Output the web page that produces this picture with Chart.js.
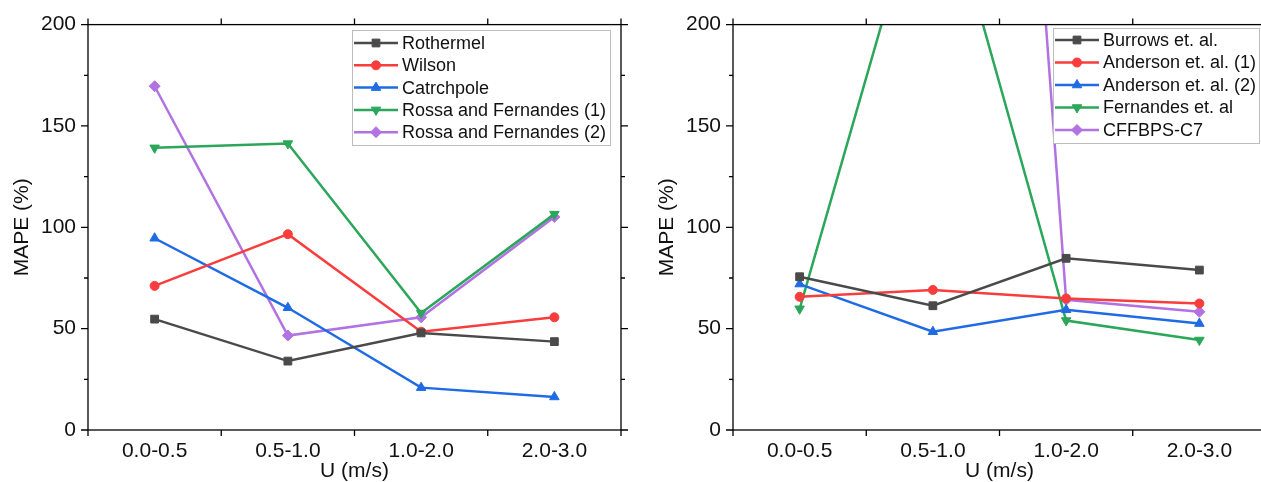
<!DOCTYPE html>
<html>
<head>
<meta charset="utf-8">
<script src="https://cdn.jsdelivr.net/npm/chart.js@4.4.1/dist/chart.umd.min.js"></script>
<style>
  html, body { margin: 0; padding: 0; background: #fff; overflow: hidden; }
  #wrap { position: relative; width: 1261px; height: 482px; overflow: hidden; }
  .box { position: absolute; top: 0; width: 640px; height: 482px; }
  #leftBox { left: 0; }
  #rightBox { left: 645px; }
</style>
</head>
<body>
<div id="wrap">
  <div class="box" id="leftBox"><canvas id="leftChart"></canvas></div>
  <div class="box" id="rightBox"><canvas id="rightChart"></canvas></div>
</div>
<script>
const categories = ["0.0-0.5", "0.5-1.0", "1.0-2.0", "2.0-3.0"];
const yTickValues = [0, 50, 100, 150, 200];

// left panel
const rothermel = [54.7, 34.0, 47.9, 43.6];
const wilson = [71.1, 96.6, 48.5, 55.6];
const catchpole = [94.6, 60.3, 20.9, 16.3];
const rossaFernandes1 = [139.2, 141.3, 57.7, 106.5];
const rossaFernandes2 = [169.6, 46.6, 55.6, 105.1];

// right panel (some values run off the top of the axis)
const burrows = [75.6, 61.3, 84.7, 78.9];
const anderson1 = [65.7, 69.1, 64.9, 62.4];
const anderson2 = [72.0, 48.5, 59.3, 52.5];
const fernandes = [59.8, 288, 54.0, 44.4];
const cffbpsC7 = [850, 960, 64.2, 58.3];

const FONT = "'Liberation Sans', Arial, sans-serif";
const GRAY = "#4a4a4a", RED = "#f93c3c", BLUE = "#1f6be4", GREEN = "#2ba65a", PURPLE = "#b272e2";

function series(label, data, color, style, radius, rotation) {
    return {
        label: label,
        data: data,
        borderColor: color,
        backgroundColor: color,
        borderWidth: 2.5,
        pointStyle: style,
        pointRadius: radius,
        pointRotation: rotation || 0,
        pointBorderWidth: 1,
        tension: 0,
    };
}

// frame with ticks on all four sides, Origin style
const framePlugin = {
    id: "frame",
    afterDraw(chart) {
        const { ctx, chartArea: a, scales } = chart;
        const x = scales.x, y = scales.y;
        ctx.save();
        ctx.strokeStyle = "#000";
        ctx.lineWidth = 1.3;
        ctx.strokeRect(a.left, a.top, a.right - a.left, a.bottom - a.top);
        ctx.beginPath();
        for (let v = 0; v <= 200; v += 25) {
            const py = y.getPixelForValue(v);
            const len = v % 50 === 0 ? 7 : 4;
            ctx.moveTo(a.left - len, py);
            ctx.lineTo(a.left, py);
            ctx.moveTo(a.right, py);
            ctx.lineTo(a.right + len, py);
        }
        for (let i = 0; i <= categories.length; i++) {
            const px = x.getPixelForValue(i - 0.5);
            ctx.moveTo(px, a.bottom);
            ctx.lineTo(px, a.bottom + 6);
            ctx.moveTo(px, a.top);
            ctx.lineTo(px, a.top - 6);
        }
        ctx.stroke();
        ctx.restore();
    },
};

// legend box drawn inside the plot
const legendPlugin = {
    id: "boxLegend",
    afterDatasetsDraw(chart, args, opts) {
        const ctx = chart.ctx;
        ctx.save();
        ctx.fillStyle = "#fff";
        ctx.fillRect(opts.x, opts.y, opts.w, opts.h);
        ctx.strokeStyle = "#bdbdbd";
        ctx.lineWidth = 1;
        ctx.strokeRect(opts.x + 0.5, opts.y + 0.5, opts.w, opts.h);
        ctx.font = "18px " + FONT;
        ctx.textBaseline = "middle";
        chart.data.datasets.forEach((ds, i) => {
            const ry = opts.firstRow + i * opts.rowGap;
            const x0 = opts.x + 2, x1 = opts.x + 46;
            ctx.strokeStyle = ds.borderColor;
            ctx.fillStyle = ds.backgroundColor;
            ctx.lineWidth = 2.5;
            ctx.beginPath();
            ctx.moveTo(x0, ry);
            ctx.lineTo(x1, ry);
            ctx.stroke();
            ctx.lineWidth = 1;
            Chart.helpers.drawPoint(ctx, {
                pointStyle: ds.pointStyle,
                radius: ds.pointRadius,
                rotation: ds.pointRotation,
                borderWidth: 1,
            }, (x0 + x1) / 2, ry);
            ctx.fillStyle = "#111";
            ctx.fillText(ds.label, x1 + 4, ry + 1);
        });
        ctx.restore();
    },
};

function makeChart(id, datasets, legend) {
    return new Chart(document.getElementById(id), {
        type: "line",
        data: { labels: categories, datasets: datasets },
        plugins: [framePlugin, legendPlugin],
        options: {
            responsive: false,
            animation: false,
            maintainAspectRatio: false,
            layout: { padding: { top: 21, right: 19, bottom: 0, left: 0 } },
            plugins: {
                legend: { display: false },
                tooltip: { enabled: false },
                boxLegend: legend,
            },
            scales: {
                x: {
                    type: "category",
                    offset: true,
                    grid: { display: false, drawTicks: false },
                    border: { display: false },
                    ticks: { color: "#111", padding: 9, font: { family: FONT, size: 21 } },
                    title: {
                        display: true,
                        text: "U (m/s)",
                        color: "#111",
                        padding: 0,
                        font: { family: FONT, size: 21, lineHeight: 1 },
                    },
                    afterFit(scale) { scale.height = 52; },
                },
                y: {
                    min: 0,
                    max: 200,
                    afterBuildTicks(scale) { scale.ticks = yTickValues.map(v => ({ value: v })); },
                    grid: { display: false, drawTicks: false },
                    border: { display: false },
                    ticks: { color: "#111", padding: 12, font: { family: FONT, size: 21 } },
                    title: {
                        display: true,
                        text: "MAPE (%)",
                        color: "#111",
                        padding: { top: 12, bottom: 0 },
                        font: { family: FONT, size: 21, lineHeight: 1 },
                    },
                    afterFit(scale) { scale.width = 88; },
                },
            },
        },
    });
}

function sizeCanvas(id) {
    const c = document.getElementById(id);
    c.width = 640;
    c.height = 482;
    c.style.width = "640px";
    c.style.height = "482px";
}
sizeCanvas("leftChart");
sizeCanvas("rightChart");

makeChart("leftChart", [
    series("Rothermel", rothermel, GRAY, "rect", 5.5),
    series("Wilson", wilson, RED, "circle", 4.5),
    series("Catrchpole", catchpole, BLUE, "triangle", 5.5),
    series("Rossa and Fernandes (1)", rossaFernandes1, GREEN, "triangle", 5.5, 180),
    series("Rossa and Fernandes (2)", rossaFernandes2, PURPLE, "rectRot", 5.5),
], { x: 352, y: 30, w: 258, h: 115, firstRow: 43, rowGap: 22.3 });

makeChart("rightChart", [
    series("Burrows et. al.", burrows, GRAY, "rect", 5.5),
    series("Anderson et. al. (1)", anderson1, RED, "circle", 4.5),
    series("Anderson et. al. (2)", anderson2, BLUE, "triangle", 5.5),
    series("Fernandes et. al", fernandes, GREEN, "triangle", 5.5, 180),
    series("CFFBPS-C7", cffbpsC7, PURPLE, "rectRot", 5.5),
], { x: 408, y: 28, w: 206, h: 115, firstRow: 40, rowGap: 22.5 });
</script>
</body>
</html>
